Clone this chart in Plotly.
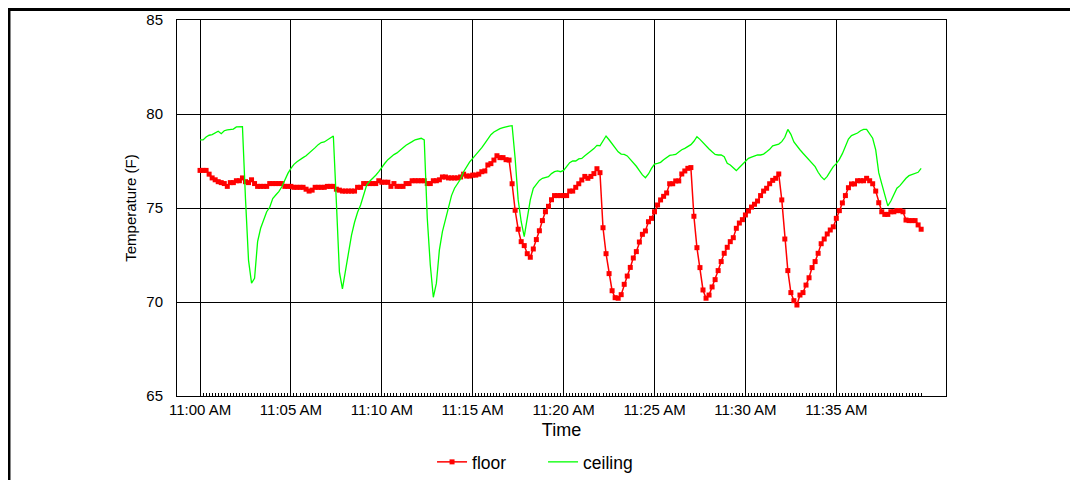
import pandas as pd
import plotly.graph_objects as go

# ---- data (readings every 10 s starting 11:00:00) ----
start_time = "2000-01-01 11:00:00"
sample_step = "10s"

floor = [
    77.0, 77.0, 77.0, 76.8, 76.6, 76.5, 76.4, 76.35, 76.3, 76.15,
    76.35, 76.35, 76.45, 76.45, 76.6, 76.4, 76.35, 76.5, 76.3, 76.15,
    76.15, 76.15, 76.15, 76.3, 76.3, 76.3, 76.3, 76.3, 76.15, 76.15,
    76.15, 76.1, 76.1, 76.1, 76.1, 76.0, 75.9, 75.95, 76.1, 76.1,
    76.1, 76.1, 76.15, 76.15, 76.15, 76.0, 75.95, 75.9, 75.9, 75.9,
    75.9, 75.9, 76.1, 76.1, 76.3, 76.3, 76.3, 76.3, 76.3, 76.45,
    76.37, 76.37, 76.37, 76.15, 76.3, 76.15, 76.15, 76.15, 76.3, 76.3,
    76.45, 76.45, 76.45, 76.45, 76.45, 76.3, 76.3, 76.45, 76.45, 76.5,
    76.65, 76.65, 76.6, 76.6, 76.6, 76.6, 76.65, 76.8, 76.7, 76.7,
    76.75, 76.75, 76.8, 76.93, 76.97, 77.29, 77.36, 77.55, 77.78, 77.68,
    77.68, 77.57, 77.55, 76.29, 74.88, 73.87, 73.21, 73.0, 72.57, 72.38,
    72.82, 73.32, 73.79, 74.33, 74.8, 75.09, 75.44, 75.66, 75.66, 75.66,
    75.66, 75.66, 75.9, 75.9, 76.1, 76.29, 76.49, 76.68, 76.58, 76.68,
    76.83, 77.09, 76.88, 73.95, 72.57, 71.51, 70.6, 70.23, 70.2, 70.39,
    70.94, 71.38, 71.84, 72.34, 72.68, 73.19, 73.6, 73.78, 74.27, 74.45,
    74.8, 75.16, 75.43, 75.62, 75.8, 76.29, 76.29, 76.44, 76.44, 76.81,
    76.97, 77.11, 77.15, 74.56, 72.89, 71.83, 70.64, 70.2, 70.37, 70.8,
    71.19, 71.67, 72.15, 72.59, 72.91, 73.21, 73.42, 73.92, 74.2, 74.38,
    74.63, 74.84, 75.05, 75.2, 75.37, 75.66, 75.9, 76.05, 76.29, 76.47,
    76.58, 76.81, 75.43, 73.35, 71.67, 70.5, 70.07, 69.84, 70.37, 70.5,
    70.9, 71.29, 71.83, 72.15, 72.59, 73.1, 73.35, 73.62, 73.83, 74.0,
    74.45, 74.86, 75.27, 75.66, 76.08, 76.28, 76.28, 76.45, 76.45, 76.45,
    76.58, 76.45, 76.29, 75.9, 75.28, 74.8, 74.66, 74.66, 74.8, 74.8,
    74.86, 74.86, 74.8, 74.36, 74.33, 74.33, 74.33, 74.1, 73.87,
]

ceiling = [
    78.62, 78.62, 78.78, 78.87, 78.9, 78.97, 79.08, 78.95, 79.11, 79.15,
    79.18, 79.2, 79.31, 79.33, 79.33,
    75.5, 72.23, 71.0, 71.26, 73.21, 73.92, 74.36, 74.8, 75.04, 75.5,
    75.69, 75.87, 76.13, 76.49, 76.84,
    77.11, 77.32, 77.46, 77.59, 77.68, 77.78, 77.91, 78.09, 78.21, 78.37,
    78.48, 78.51, 78.63, 78.72, 78.83,
    75.3, 71.6, 70.7, 71.7, 72.68, 73.56, 74.24, 74.77, 75.16, 75.73,
    76.22, 76.42, 76.57, 76.74, 76.93,
    77.18, 77.38, 77.57, 77.72, 77.84, 77.93, 78.09, 78.2, 78.34, 78.42,
    78.53, 78.63, 78.69, 78.71, 78.62,
    74.45, 71.97, 70.25, 70.99, 72.77, 73.74, 74.36, 75.07, 75.66, 76.05,
    76.29, 76.54, 76.93, 77.2, 77.45,
    77.64, 77.82, 78.01, 78.21, 78.44, 78.7, 78.9, 79.04, 79.15, 79.22,
    79.27, 79.33, 79.36, 79.38, 77.64,
    75.43, 74.27, 73.48, 74.59, 75.43, 76.05, 76.29, 76.47, 76.58, 76.61,
    76.67, 76.83, 76.93, 76.97, 76.93,
    77.0, 77.2, 77.41, 77.5, 77.5, 77.61, 77.64, 77.78, 77.89, 78.03,
    78.16, 78.33, 78.31, 78.56, 78.83,
    78.63, 78.42, 78.26, 77.99, 77.87, 77.85, 77.77, 77.59, 77.43, 77.22,
    76.99, 76.76, 76.61, 76.81, 77.11,
    77.34, 77.38, 77.43, 77.57, 77.7, 77.8, 77.82, 77.85, 77.98, 78.1,
    78.17, 78.26, 78.37, 78.55, 78.79,
    78.65, 78.46, 78.3, 78.14, 77.99, 77.85, 77.82, 77.82, 77.73, 77.38,
    77.29, 77.11, 76.99, 77.15, 77.32,
    77.52, 77.64, 77.71, 77.78, 77.82, 77.82, 77.87, 77.99, 78.12, 78.31,
    78.35, 78.4, 78.53, 78.76, 79.18,
    78.92, 78.51, 78.28, 78.1, 77.91, 77.73, 77.55, 77.36, 77.2, 76.9,
    76.67, 76.51, 76.68, 76.95, 77.2,
    77.36, 77.59, 77.89, 78.31, 78.67, 78.85, 78.9, 78.99, 79.11, 79.18,
    79.18, 78.95, 78.71, 78.09, 76.88,
    76.28, 75.69, 75.11, 75.37, 75.67, 76.05, 76.19, 76.4, 76.58, 76.72,
    76.77, 76.83, 76.9, 77.11,
]

tick_times = ["11:00", "11:05", "11:10", "11:15", "11:20", "11:25", "11:30", "11:35"]
tick_labels = ["11:00 AM", "11:05 AM", "11:10 AM", "11:15 AM",
               "11:20 AM", "11:25 AM", "11:30 AM", "11:35 AM"]
y_ticks = [65, 70, 75, 80, 85]

times = pd.date_range(start_time, periods=len(floor), freq=sample_step)
tick_vals = [pd.Timestamp("2000-01-01 " + t + ":00") for t in tick_times]

FONT = "Liberation Sans, Arial, sans-serif"

fig = go.Figure()
fig.add_trace(go.Scatter(
    x=times, y=floor, name="floor", mode="lines+markers",
    line=dict(color="#ff0000", width=1.5),
    marker=dict(symbol="square", size=5, color="#ff0000"),
))
fig.add_trace(go.Scatter(
    x=times, y=ceiling[:len(times)], name="ceiling", mode="lines",
    line=dict(color="#00ff00", width=1.3),
))

# the page body has an 8px margin, so the figure starts at (8, 8)
fig.update_layout(
    template="none",
    width=1078, height=480,
    margin=dict(l=169, r=140, t=12, b=92, autoexpand=False),
    paper_bgcolor="white", plot_bgcolor="white",
    font=dict(family=FONT, color="black", size=15),
    showlegend=True,
    legend=dict(orientation="h", x=0.476, xanchor="center",
                y=-0.1755, yanchor="middle",
                font=dict(size=17.5, family=FONT), entrywidth=66,
                bgcolor="rgba(0,0,0,0)"),
    shapes=[dict(type="rect", xref="paper", yref="paper",
                 x0=-0.2185, x1=2.0, y0=-1.0, y1=1.0279,
                 line=dict(color="black", width=3), layer="below")],
)

fig.update_xaxes(
    range=[pd.Timestamp("2000-01-01 10:58:44"), pd.Timestamp("2000-01-01 11:41:02")],
    tickmode="array", tickvals=tick_vals, ticktext=tick_labels,
    showgrid=True, gridcolor="black", gridwidth=1,
    showline=True, linecolor="black", linewidth=1, mirror=True,
    ticks="", zeroline=False, automargin=False,
    tickfont=dict(size=15, family=FONT),
    title=dict(text="Time", font=dict(size=18, family=FONT), standoff=6),
    minor=dict(tickmode="array", tickvals=list(times), ticks="inside",
               ticklen=3, tickwidth=1, tickcolor="black", showgrid=False),
)
fig.update_yaxes(
    range=[65, 85], tickmode="array", tickvals=y_ticks,
    showgrid=True, gridcolor="black", gridwidth=1,
    showline=True, linecolor="black", linewidth=1, mirror=True,
    ticks="", zeroline=False, automargin=False, ticklabelstandoff=10,
    tickfont=dict(size=15, family=FONT),
    title=dict(text="Temperature (F)", font=dict(size=15, family=FONT), standoff=6),
)

fig.write_html("out.html")
